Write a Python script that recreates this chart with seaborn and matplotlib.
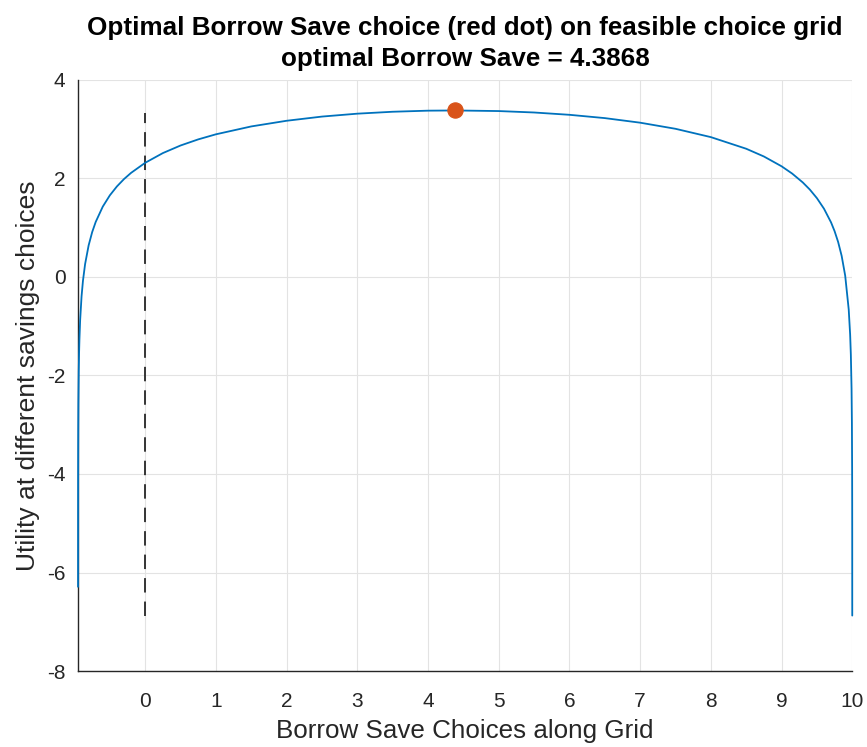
import matplotlib
matplotlib.use("Agg")
import matplotlib.pyplot as plt
import seaborn as sns
import pandas as pd

# Curve (borrow/save choice vs utility)
choices = [-0.9499, -0.9495, -0.949, -0.948, -0.947, -0.945, -0.94, -0.935, -0.93, -0.92,
           -0.9, -0.88, -0.85, -0.8, -0.75, -0.7, -0.6, -0.5, -0.4, -0.3, -0.2,
           0.0, 0.25, 0.5, 0.75, 1.0, 1.5, 2.0, 2.5, 3.0, 3.5, 4.0, 4.3868, 5.0, 5.5, 6.0, 6.5,
           7.0, 7.5, 8.0, 8.5, 8.75, 9.0, 9.15, 9.3, 9.4, 9.5, 9.6, 9.7, 9.75, 9.8, 9.85,
           9.9, 9.95, 9.97, 9.98, 9.99, 9.995, 9.998, 9.999, 9.9995, 9.9999]
utility = [-6.29, -4.763, -4.105, -3.446, -3.062, -2.576, -1.918, -1.534, -1.261, -0.876,
           -0.393, -0.075, 0.261, 0.641, 0.910, 1.117, 1.428, 1.657, 1.838, 1.987, 2.113,
           2.318, 2.515, 2.669, 2.793, 2.896, 3.056, 3.171, 3.256, 3.315, 3.354, 3.376, 3.380,
           3.368, 3.339, 3.292, 3.225, 3.132, 3.008, 2.839, 2.603, 2.446, 2.247, 2.099, 1.919,
           1.774, 1.600, 1.386, 1.108, 0.930, 0.711, 0.428, 0.027, -0.662, -1.171, -1.576,
           -2.269, -2.962, -3.878, -4.571, -5.264, -6.874]
opt_choice = [4.3868]
opt_utility = [3.380]
zero_line_x = 0.0
x_ticks = list(range(0, 11))
y_ticks = [-8, -6, -4, -2, 0, 2, 4]

sns.set_style("white")
plt.rcParams['font.family'] = ['Liberation Sans', 'DejaVu Sans']
plt.rcParams['axes.unicode_minus'] = False

df = pd.DataFrame({"x": choices, "y": utility})
dfo = pd.DataFrame({"x": opt_choice, "y": opt_utility})

fig = plt.figure(figsize=(8.67, 7.47), dpi=100)
ax = fig.add_axes([0.09, 0.1017, 0.893, 0.7913])

ax.grid(True, color="#e3e3e3", linewidth=0.8)
ax.set_axisbelow(True)

sns.lineplot(data=df, x="x", y="y", ax=ax, color="#0072BD", linewidth=1.3, sort=False,
             zorder=4, clip_on=False)
ax.vlines(zero_line_x, min(utility), max(utility) - 0.05, colors="#262626",
          linestyles=(0, (8, 5)), linewidth=1.3)
sns.scatterplot(data=dfo, x="x", y="y", ax=ax, color="#D95319", s=120,
                edgecolor="#D95319", zorder=5)

ax.set_xlim(min(choices), 10)
ax.set_ylim(-8, 4)
ax.set_xticks(x_ticks)
ax.set_yticks(y_ticks)
ax.tick_params(direction="in", length=5, width=1, colors="#262626",
               labelsize=15, labelcolor="#262626", pad=9)
ax.tick_params(axis="x", pad=15)

for s in ["top", "right"]:
    ax.spines[s].set_visible(False)
for s in ["left", "bottom"]:
    ax.spines[s].set_color("#262626")
    ax.spines[s].set_linewidth(1.0)

ax.set_xlabel("Borrow Save Choices along Grid", fontsize=18.7, color="#262626", labelpad=6)
ax.set_ylabel("Utility at different savings choices", fontsize=19, color="#262626", labelpad=5)
ax.set_title("Optimal Borrow Save choice (red dot) on feasible choice grid\noptimal Borrow Save = 4.3868",
             fontsize=18.7, fontweight="bold", color="black", pad=10, linespacing=1.35)

fig.savefig("out.png", dpi=100)
